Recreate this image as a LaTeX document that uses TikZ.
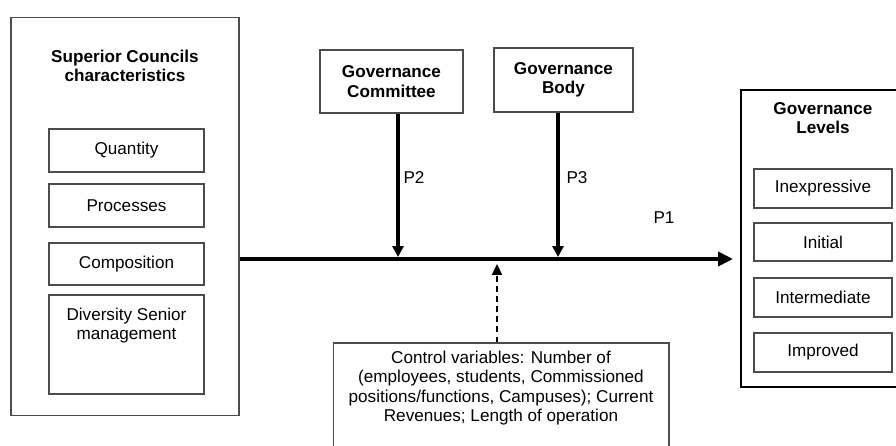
\documentclass[tikz,border=0pt]{standalone}
\usepackage{fontspec}
\setmainfont{Liberation Sans}
\usetikzlibrary{arrows.meta,positioning}

\begin{document}
\begin{tikzpicture}[
        x=0.02cm, y=-0.02cm,
        font=\fontsize{9.75}{11}\selectfont,
        box/.style={draw=black!70, line width=0.6pt, align=center, inner sep=0pt},
        head/.style={font=\fontsize{9.75}{11}\selectfont\bfseries, align=center},
        marr/.style={-{Triangle[length=0.3cm, width=0.28cm]}, line width=2.7pt},
        varr/.style={-{Triangle[length=0.22cm, width=0.22cm]}, line width=2pt},
        carr/.style={-{Triangle[length=0.22cm, width=0.2cm]}, line width=1.3pt, dash pattern=on 3.4pt off 2.3pt}
    ]
    \useasboundingbox (0,0) rectangle (896,446);

    % superior councils
    \node[box, minimum width=4.56cm, minimum height=7.98cm] (sc) at (125,216.5) {};
    \node[head] (sct) at (125,66) {Superior Councils\\characteristics};
    \node[box, minimum width=3.1cm, minimum height=0.86cm] (qty) at (126.5,150.5) {Quantity};
    \node[box, minimum width=3.1cm, minimum height=0.86cm] (proc) at (126.5,205.5) {Processes};
    \node[box, minimum width=3.1cm, minimum height=0.84cm] (comp) at (126.5,264) {Composition};
    \node[box, minimum width=3.1cm, minimum height=1.98cm] (div) at (126.5,344.5)
        {\parbox[c][1.96cm][t]{3cm}{\centering\vspace{7pt}Diversity Senior\\management}};

    % governance bodies
    \node[box, minimum width=2.86cm, minimum height=1.26cm] (gc) at (391.5,81.5) {\bfseries Governance\\\bfseries Committee};
    \node[box, minimum width=2.78cm, minimum height=1.28cm] (gb) at (563.5,80) {\bfseries Governance\\\bfseries Body};

    % governance levels
    \node[box, draw=black, line width=1.1pt, minimum width=3.28cm, minimum height=5.94cm] (gl) at (823,238.5) {};
    \node[head] (glt) at (823,118) {Governance\\Levels};
    \node[box, minimum width=2.76cm, minimum height=0.78cm] (inex) at (823,188.5) {Inexpressive};
    \node[box, minimum width=2.76cm, minimum height=0.76cm] (init) at (823,242) {Initial};
    \node[box, minimum width=2.76cm, minimum height=0.78cm] (inter) at (823,297.5) {Intermediate};
    \node[box, minimum width=2.76cm, minimum height=0.78cm] (impr) at (823,352.5) {Improved};

    % control variables
    \node[box, minimum width=6.72cm, minimum height=2.54cm] (cv) at (501,406.5)
        {\parbox[c][2.5cm][t]{6.6cm}{\centering\vspace{4pt}Control variables: Number of\\(employees, students, Commissioned\\positions/functions, Campuses); Current\\Revenues; Length of operation}};

    % arrows
    \coordinate (m1) at (733,259);
    \coordinate (m2) at (398,257);
    \coordinate (m3) at (558,257);
    \coordinate (m0) at (497,264);
    \draw[marr] (sc.east |- m1) -- (m1);
    \draw[varr] (gc.south -| m2) -- (m2);
    \draw[varr] (gb.south -| m3) -- (m3);
    \draw[carr] (cv.north -| m0) -- (m0);

    \node (p1) at (664,218) {P1};
    \node (p2) at (414,178) {P2};
    \node (p3) at (577,178) {P3};
\end{tikzpicture}
\end{document}
